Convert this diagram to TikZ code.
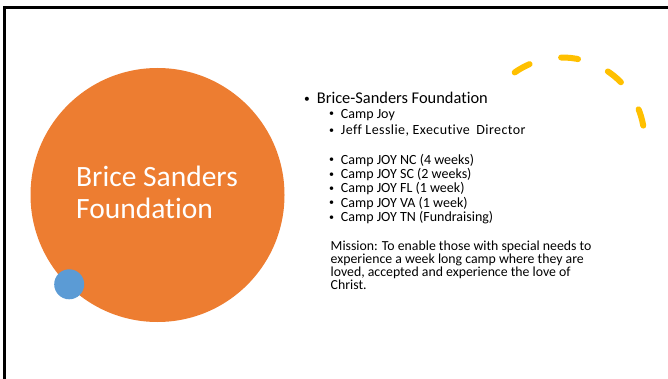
\documentclass[tikz,border=0pt]{standalone}
\usepackage{fontspec}
\setmainfont{Carlito}[Ligatures = NoCommon]
\usetikzlibrary{positioning}

\definecolor{slideorange}{HTML}{ED7D31}
\definecolor{slideblue}{HTML}{5B9BD5}
\definecolor{slideyellow}{HTML}{FFC000}

\begin{document}
\begin{tikzpicture}[x = 1pt, y = -1pt,
	mainitem/.style = {anchor = base west, inner sep = 0pt, font = \fontsize{16.4}{18}\selectfont},
	subitem/.style = {anchor = base west, inner sep = 0pt, font = \fontsize{14}{16}\selectfont},
	mainmark/.style = {anchor = base, inner sep = 0pt, font = \fontsize{11.5}{12}\selectfont},
	submark/.style = {anchor = base, inner sep = 0pt, font = \fontsize{10}{11}\selectfont}]
	
		\useasboundingbox (0, 0) rectangle (668, 379);
		
		% slide frame
		\draw[line width = 2.5pt] (668, 7.5) -- (4.5, 7.5) -- (4.5, 379);
		
		% circles
		\fill[slideorange] (157.5, 195) circle (127pt);
		\fill[slideblue] (69.2, 284.3) circle (15pt);
		\node[anchor = base west, inner sep = 0pt, align = left, text = white,
			font = \fontsize{29.5}{31.5}\selectfont] (title) at (76, 218.2) {Brice Sanders\\Foundation};
		
		% dashed arc
		\coordinate (arccentre) at (562, 140);
		\draw[slideyellow, line width = 6pt, line cap = round, dash pattern = on 17pt off 32.5pt]
			([shift = {(125:82.5pt)}]arccentre) arc[start angle = 125, end angle = 10, radius = 82.5pt];
		
		% bullets
		\node[mainmark] (m0) at (307, 102.5) {•};
		\node[mainitem] (foundation) at (316.7, 104) {Brice-Sanders Foundation};
		
		\node[submark] (s1) at (331.7, 117) {•};
		\node[subitem] (campjoy) at (340.7, 118.3) {Camp Joy};
		\node[submark] (s2) at (331.7, 133.7) {•};
		\node[subitem] (director) at (340.7, 135)
			{\addfontfeature{LetterSpace = 3}Jeff Lesslie, Executive\hspace{3pt} Director};
		
		\node[submark] (s3) at (331.7, 163) {•};
		\node[subitem] (nc) at (340.7, 164.3) {Camp JOY NC (4 weeks)};
		\node[submark] (s4) at (331.7, 177.2) {•};
		\node[subitem] (sc) at (340.7, 178.5) {Camp JOY SC (2 weeks)};
		\node[submark] (s5) at (331.7, 191.5) {•};
		\node[subitem] (fl) at (340.7, 192.8) {Camp JOY FL (1 week)};
		\node[submark] (s6) at (331.7, 205.9) {•};
		\node[subitem] (va) at (340.7, 207.2) {Camp JOY VA (1 week)};
		\node[submark] (s7) at (331.7, 220.2) {•};
		\node[subitem] (tn) at (340.7, 221.5) {Camp JOY TN (Fundraising)};
		
		\node[anchor = base west, inner sep = 0pt, align = left,
			font = \fontsize{13.8}{10.8}\selectfont] (mission) at (330.5, 289)
			{Mission: To enable those with special needs to\\experience a week long camp where they are\\loved, accepted and experience the love of\\Christ.};
		
	\end{tikzpicture}
\end{document}
